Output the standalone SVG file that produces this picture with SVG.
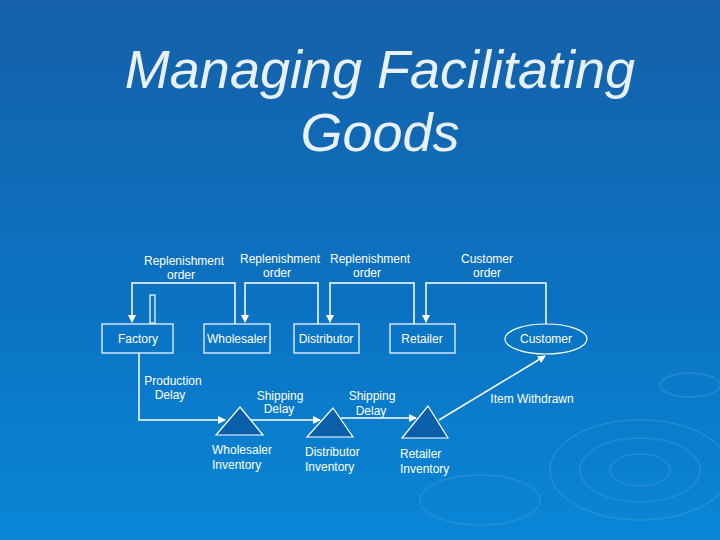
<svg xmlns="http://www.w3.org/2000/svg" width="720" height="540" viewBox="0 0 720 540">
<defs>
<linearGradient id="bg" x1="0" y1="0" x2="0" y2="1"><stop offset="0" stop-color="#1560a8"/><stop offset="0.6" stop-color="#0b74c4"/><stop offset="1" stop-color="#0a86d6"/></linearGradient>
<marker id="ar" markerWidth="8" markerHeight="8" refX="7" refY="4" orient="auto" markerUnits="userSpaceOnUse"><path d="M0,0 L8,4 L0,8 Z" fill="#fff"/></marker>
<style>
.l{fill:none;stroke:#fff;stroke-width:1.5}
.b{fill:none;stroke:#fff;stroke-width:1.2}
.t{fill:#0a5fa8;stroke:#fff;stroke-width:1.2}
text{font-family:"Liberation Sans",Arial,sans-serif;fill:#fff;font-size:12px}
.c{text-anchor:middle}
</style>
</defs>
<rect width="720" height="540" fill="url(#bg)"/>
<g fill="none" stroke="#3d9be0" stroke-width="1.5" opacity="0.5">
<ellipse cx="640" cy="470" rx="90" ry="50"/><ellipse cx="640" cy="470" rx="60" ry="32"/><ellipse cx="640" cy="470" rx="30" ry="16"/>
<ellipse cx="690" cy="385" rx="30" ry="12"/><ellipse cx="480" cy="500" rx="60" ry="25"/>
</g>
<text x="380" y="88" class="c" style="font-size:54px;font-style:italic;fill:#e8f0f8">Managing Facilitating</text>
<text x="380" y="151" class="c" style="font-size:54px;font-style:italic;fill:#e8f0f8">Goods</text>
<g id="connectors">
<path class="l" d="M235,324 V283 H132 V322" marker-end="url(#ar)"/>
<path class="l" d="M318,324 V283 H245 V322" marker-end="url(#ar)"/>
<path class="l" d="M414,324 V283 H330 V322" marker-end="url(#ar)"/>
<path class="l" d="M546,324 V283 H426 V322" marker-end="url(#ar)"/>
<rect class="b" x="150" y="295" width="5" height="28"/>
<path class="l" d="M139,353 V420 H225" marker-end="url(#ar)"/>
<path class="l" d="M250,420 H320" marker-end="url(#ar)"/>
<path class="l" d="M341,418 H416" marker-end="url(#ar)"/>
<path class="l" d="M439,420 L545,356" marker-end="url(#ar)"/>
</g>
<g id="factory"><rect class="b" x="102" y="324" width="71" height="29"/><text x="138" y="343" class="c">Factory</text></g>
<g id="wholesaler"><rect class="b" x="204" y="324" width="66" height="29"/><text x="237" y="343" class="c">Wholesaler</text></g>
<g id="distributor"><rect class="b" x="294" y="324" width="65" height="29"/><text x="326" y="343" class="c">Distributor</text></g>
<g id="retailer"><rect class="b" x="390" y="324" width="65" height="29"/><text x="422" y="343" class="c">Retailer</text></g>
<g id="customer"><ellipse class="b" cx="546" cy="339" rx="41" ry="15"/><text x="546" y="343" class="c">Customer</text></g>
<g id="wi"><path class="t" d="M240,407 L263,435 L216,435 Z"/><text x="212" y="454">Wholesaler</text><text x="212" y="469">Inventory</text></g>
<g id="di"><path class="t" d="M333,408 L353,437 L307,437 Z"/><text x="305" y="456">Distributor</text><text x="305" y="471">Inventory</text></g>
<g id="ri"><path class="t" d="M428,406 L448,438 L402,438 Z"/><text x="400" y="458">Retailer</text><text x="400" y="473">Inventory</text></g>
<g id="labels">
<text x="184" y="265" class="c">Replenishment</text><text x="181" y="279" class="c">order</text>
<text x="280" y="263" class="c">Replenishment</text><text x="277" y="277" class="c">order</text>
<text x="370" y="263" class="c">Replenishment</text><text x="367" y="277" class="c">order</text>
<text x="487" y="263" class="c">Customer</text><text x="487" y="277" class="c">order</text>
<text x="173" y="385" class="c">Production</text><text x="170" y="399" class="c">Delay</text>
<text x="280" y="400" class="c">Shipping</text><text x="279" y="413" class="c">Delay</text>
<text x="372" y="400" class="c">Shipping</text><text x="371" y="415" class="c">Delay</text>
<text x="532" y="403" class="c">Item Withdrawn</text>
</g>
</svg>
